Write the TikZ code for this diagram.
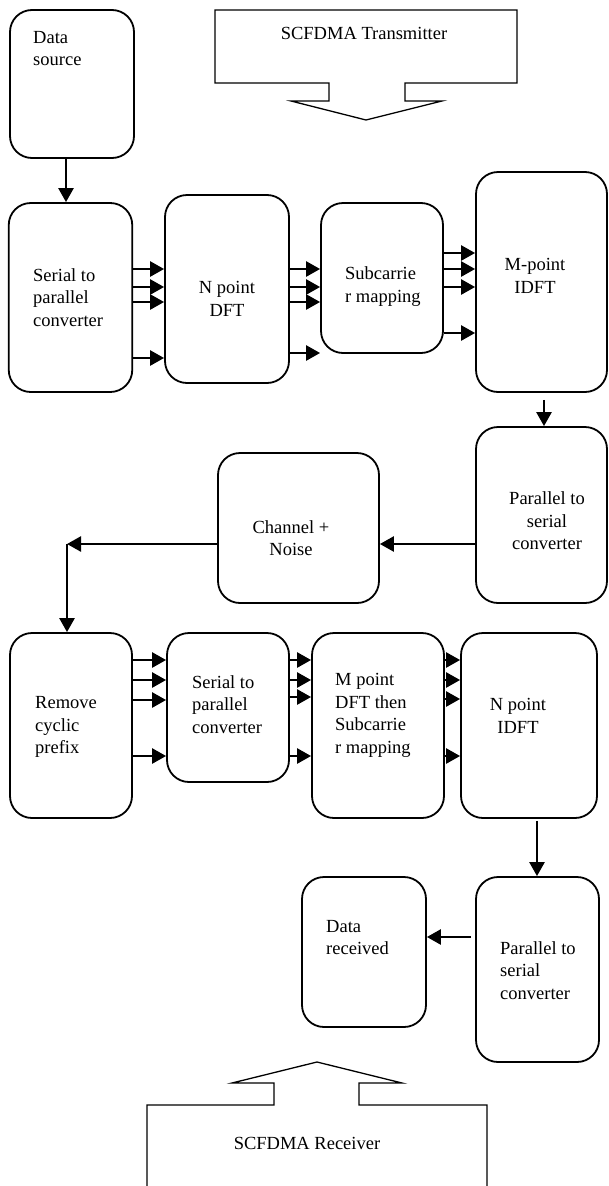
\documentclass[tikz,border=0pt]{standalone}
\usepackage{fontspec}
\setmainfont{Liberation Serif}
\usetikzlibrary{arrows.meta}
\begin{document}
\begin{tikzpicture}[x=1pt,y=-1pt,
  blk/.style={draw, line width=1.8pt, rounded corners=22pt, inner sep=0pt},
  txt/.style={font=\fontsize{18.5}{22.5}\selectfont, inner sep=0pt},
  arr/.style={line width=2.5pt, -{Triangle[length=14pt,width=15pt]}},
  thin/.style={line width=1.3pt}]
\useasboundingbox (0,0) rectangle (608,1186);
% transmitter banner
\draw[thin] (215,10) -- (517,10) -- (517,83) -- (405,83) -- (405,101) -- (442,101) -- (366,120) -- (291,101) -- (329,101) -- (329,83) -- (215,83) -- cycle;
\node[txt] (txl) at (364,33) {SCFDMA Transmitter};
% receiver banner
\draw[thin] (147,1195) -- (147,1105) -- (274,1105) -- (274,1083) -- (232,1083) -- (317,1062) -- (402,1083) -- (359,1083) -- (359,1105) -- (487,1105) -- (487,1195);
\node[txt] (rxl) at (307,1143) {SCFDMA Receiver};
% boxes
\node[blk, minimum width=124pt, minimum height=148pt] (ds) at (72,84) {};
\node[blk, minimum width=123.5pt, minimum height=189pt] (sp1) at (70.5,297.5) {};
\node[blk, minimum width=124pt, minimum height=188pt] (np) at (227,289) {};
\node[blk, minimum width=122pt, minimum height=150pt] (sc) at (382,278) {};
\node[blk, minimum width=131pt, minimum height=220pt] (mp) at (541.5,282) {};
\node[blk, minimum width=131pt, minimum height=176pt] (ps1) at (541.5,515) {};
\node[blk, minimum width=161pt, minimum height=150pt] (ch) at (298.5,528) {};
\node[blk, minimum width=122pt, minimum height=185pt] (rc) at (71,725.5) {};
\node[blk, minimum width=122pt, minimum height=149pt] (sp2) at (228,707.5) {};
\node[blk, minimum width=132pt, minimum height=185pt] (md) at (378,725.5) {};
\node[blk, minimum width=136pt, minimum height=185pt] (ni) at (529,725.5) {};
\node[blk, minimum width=123pt, minimum height=185pt] (ps2) at (537.5,969.5) {};
\node[blk, minimum width=124pt, minimum height=150pt] (dr) at (364,952) {};
% texts
\node[txt, align=left, anchor=west] (dst) at (33,48.5) {Data\\source};
\node[txt, align=left, anchor=west] (sp1t) at (33,297.5) {Serial to\\parallel\\converter};
\node[txt, align=center] (npt) at (227,299) {N point\\DFT};
\node[txt, align=left, anchor=west] (sct) at (345,286.5) {Subcarrie\\r mapping};
\node[txt, align=center] (mpt) at (535,276) {M-point\\IDFT};
\node[txt, align=center] (ps1t) at (547,521) {Parallel to\\serial\\converter};
\node[txt, align=center] (cht) at (291,538) {Channel +\\Noise};
\node[txt, align=left, anchor=west] (rct) at (35,727) {Remove\\cyclic\\prefix};
\node[txt, align=left, anchor=west] (sp2t) at (192,704.5) {Serial to\\parallel\\converter};
\node[txt, align=left, anchor=west] (mdt) at (335,715.5) {M point\\DFT then\\Subcarrie\\r mapping};
\node[txt, align=center] (nit) at (518,716) {N point\\IDFT};
\node[txt, align=left, anchor=west] (ps2t) at (500,970.5) {Parallel to\\serial\\converter};
\node[txt, align=left, anchor=west] (drt) at (326,937.5) {Data\\received};
% connectors
\draw[arr] ([xshift=-6pt]ds.south) -- ([xshift=-6pt]ds.south |- sp1.north);
\foreach \yy in {269,287,302,358} \draw[arr] (sp1.east |- 0,\yy) -- (np.west |- 0,\yy);
\foreach \yy in {269,287,302,353} \draw[arr] (np.east |- 0,\yy) -- (sc.west |- 0,\yy);
\foreach \yy in {253,269,287,333} \draw[arr] (sc.east |- 0,\yy) -- (mp.west |- 0,\yy);
\draw[arr] ([xshift=2.5pt,yshift=-7pt]mp.south) -- ([xshift=2.5pt]ps1.north);
\draw[arr] (ps1.west |- 0,544) -- (ch.east |- 0,544);
\coordinate (c1) at (67,544);
\draw[arr] (ch.west |- 0,544) -- (c1);
\draw[arr] (c1) -- (rc.north -| c1);
\foreach \yy in {660,680,700,756} \draw[arr] (rc.east |- 0,\yy) -- (sp2.west |- 0,\yy);
\foreach \yy in {660,680,697,756} \draw[arr] (sp2.east |- 0,\yy) -- (md.west |- 0,\yy);
\foreach \yy in {660,680,699,756} \draw[arr] (md.east |- 0,\yy) -- (ni.west |- 0,\yy);
\draw[arr] ([xshift=8pt,yshift=-2pt]ni.south) -- ([xshift=8pt]ni.south |- ps2.north);
\draw[arr] ([xshift=-4pt]ps2.west |- 0,937) -- (dr.east |- 0,937);
\end{tikzpicture}
\end{document}
